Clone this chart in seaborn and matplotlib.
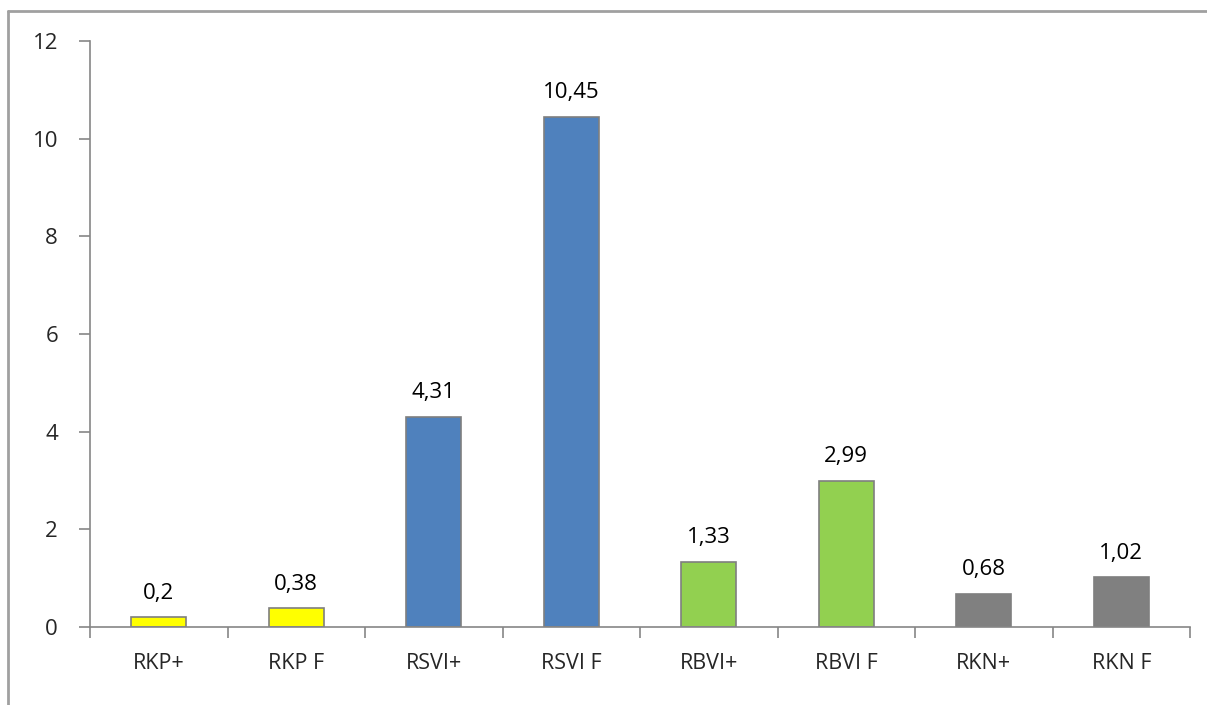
import pandas as pd
import numpy as np
import matplotlib
matplotlib.use("Agg")
import matplotlib.pyplot as plt
import seaborn as sns
from matplotlib.lines import Line2D

categories = ["RKP+", "RKP F", "RSVI+", "RSVI F", "RBVI+", "RBVI F", "RKN+", "RKN F"]
values = [0.2, 0.38, 4.31, 10.45, 1.33, 2.99, 0.68, 1.02]
labels = ["0,2", "0,38", "4,31", "10,45", "1,33", "2,99", "0,68", "1,02"]
bar_colors = ["#FFFF00", "#FFFF00", "#4F81BD", "#4F81BD",
              "#92D050", "#92D050", "#808080", "#808080"]
y_ticks = [0, 2, 4, 6, 8, 10, 12]

df = pd.DataFrame({"cat": categories, "val": values})

sns.set_style("white")
plt.rcParams['font.family'] = ['Open Sans', 'DejaVu Sans']

fig = plt.figure(figsize=(12.07, 7.05), dpi=100)
ax = fig.add_axes([0.0746, 0.1106, 0.9114, 0.8312])

sns.barplot(data=df, x="cat", y="val", hue="cat", palette=bar_colors, saturation=1,
            width=0.4, edgecolor="#7F7F7F", linewidth=1.2, legend=False, ax=ax)

for i, (v, lab) in enumerate(zip(values, labels)):
    ax.text(i, v + 0.28, lab, ha="center", va="bottom", fontsize=16, color="black")

ax.set_ylim(0, 12)
ax.set_xlim(-0.5, len(categories) - 0.5)
ax.set_yticks(y_ticks)
ax.set_yticklabels([str(t) for t in y_ticks], fontsize=16)
ax.set_xticks(range(len(categories)))
ax.set_xticklabels(categories, fontsize=15.5)
ax.set_xticks(np.arange(-0.5, len(categories)), minor=True)
ax.tick_params(axis="x", which="major", bottom=True, length=0, pad=19)
ax.tick_params(axis="x", which="minor", bottom=True, length=8, width=1.2,
               color="#868686", direction="out")
ax.tick_params(axis="y", left=True, length=8, width=1.2, color="#868686",
               direction="out", pad=15)
ax.set_xlabel("")
ax.set_ylabel("")

for s in ["top", "right"]:
    ax.spines[s].set_visible(False)
for s in ["left", "bottom"]:
    ax.spines[s].set_color("#868686")
    ax.spines[s].set_linewidth(1.2)

# outer frame (top and left edges visible)
fig.add_artist(Line2D([8 / 1207, 8 / 1207], [0, 1 - 11 / 705], transform=fig.transFigure,
                      color="#A0A0A0", linewidth=2))
fig.add_artist(Line2D([8 / 1207, 1], [1 - 11 / 705, 1 - 11 / 705], transform=fig.transFigure,
                      color="#A0A0A0", linewidth=2))

fig.savefig("out.png", dpi=100)
